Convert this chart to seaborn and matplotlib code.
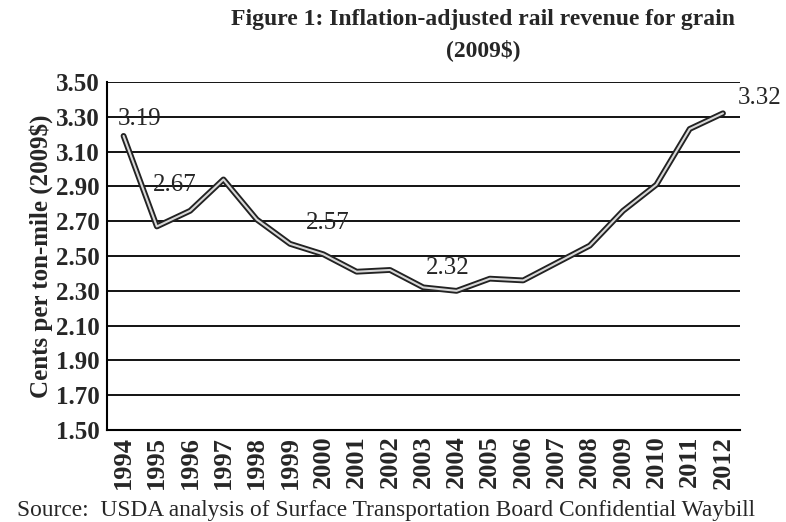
import pandas as pd
import matplotlib.pyplot as plt
import seaborn as sns
from matplotlib.ticker import FixedLocator

# Data
years = ['1994', '1995', '1996', '1997', '1998', '1999', '2000', '2001', '2002', '2003',
         '2004', '2005', '2006', '2007', '2008', '2009', '2010', '2011', '2012']
revenue = [3.19, 2.67, 2.76, 2.94, 2.71, 2.57, 2.51, 2.41, 2.42, 2.32,
           2.30, 2.37, 2.36, 2.46, 2.56, 2.76, 2.91, 3.23, 3.32]
y_ticks = [1.50, 1.70, 1.90, 2.10, 2.30, 2.50, 2.70, 2.90, 3.10, 3.30, 3.50]

df = pd.DataFrame({'idx': range(len(years)), 'year': years, 'revenue': revenue})

sns.set_style('white')
plt.rcParams['font.family'] = ['Liberation Serif', 'DejaVu Serif']

fig = plt.figure(figsize=(7.86, 5.22), dpi=100)
ax = fig.add_axes([0.136, 0.176, 0.805, 0.667])

# double line look: dark outline with a light core
sns.lineplot(data=df, x='idx', y='revenue', color='#222222', linewidth=4.2, ax=ax)
sns.lineplot(data=df, x='idx', y='revenue', color='#d8d8d8', linewidth=1.5, ax=ax)

ax.set_xlim(-0.5, len(years) - 0.5)
ax.set_ylim(1.50, 3.50)
ax.set_yticks(y_ticks)
ax.set_yticklabels([f'{v:.2f}' for v in y_ticks], fontsize=18, fontweight='bold')
ax.yaxis.grid(True, color='black', linewidth=1.3)
ax.set_axisbelow(True)

ax.set_xticks(df['idx'])
ax.set_xticklabels(years, rotation=90, fontsize=19, fontweight='bold')
ax.tick_params(axis='x', which='major', length=0, pad=4)
ax.xaxis.set_minor_locator(FixedLocator([i - 0.5 for i in range(len(years) + 1)]))
ax.tick_params(axis='x', which='minor', length=6, width=1.3, direction='out', color='black')
ax.tick_params(axis='y', length=3, width=1, direction='out', color='black', pad=2)

for side in ['top', 'right']:
    ax.spines[side].set_visible(False)
for side in ['left', 'bottom']:
    ax.spines[side].set_color('black')
    ax.spines[side].set_linewidth(1.5)

ax.set_xlabel('')
ax.set_ylabel('Cents per ton-mile (2009$)', fontsize=18, fontweight='bold', labelpad=2)

# data labels
label_spots = [(0, 0.49, 3.29), (1, 1.54, 2.91), (5, 6.14, 2.69), (9, 9.74, 2.43), (18, 19.1, 3.41)]
for i, lx, ly in label_spots:
    ax.text(lx, ly, f'{revenue[i]:.2f}', fontsize=18, ha='center', va='center', clip_on=False)

fig.text(0.615, 0.962, 'Figure 1: Inflation-adjusted rail revenue for grain',
         fontsize=17, fontweight='bold', ha='center', va='center')
fig.text(0.615, 0.905, '(2009$)', fontsize=17, fontweight='bold', ha='center', va='center')
fig.text(0.022, 0.022, 'Source:  USDA analysis of Surface Transportation Board Confidential Waybill',
         fontsize=16.8, ha='left', va='center')

fig.savefig('out.png', dpi=100)
